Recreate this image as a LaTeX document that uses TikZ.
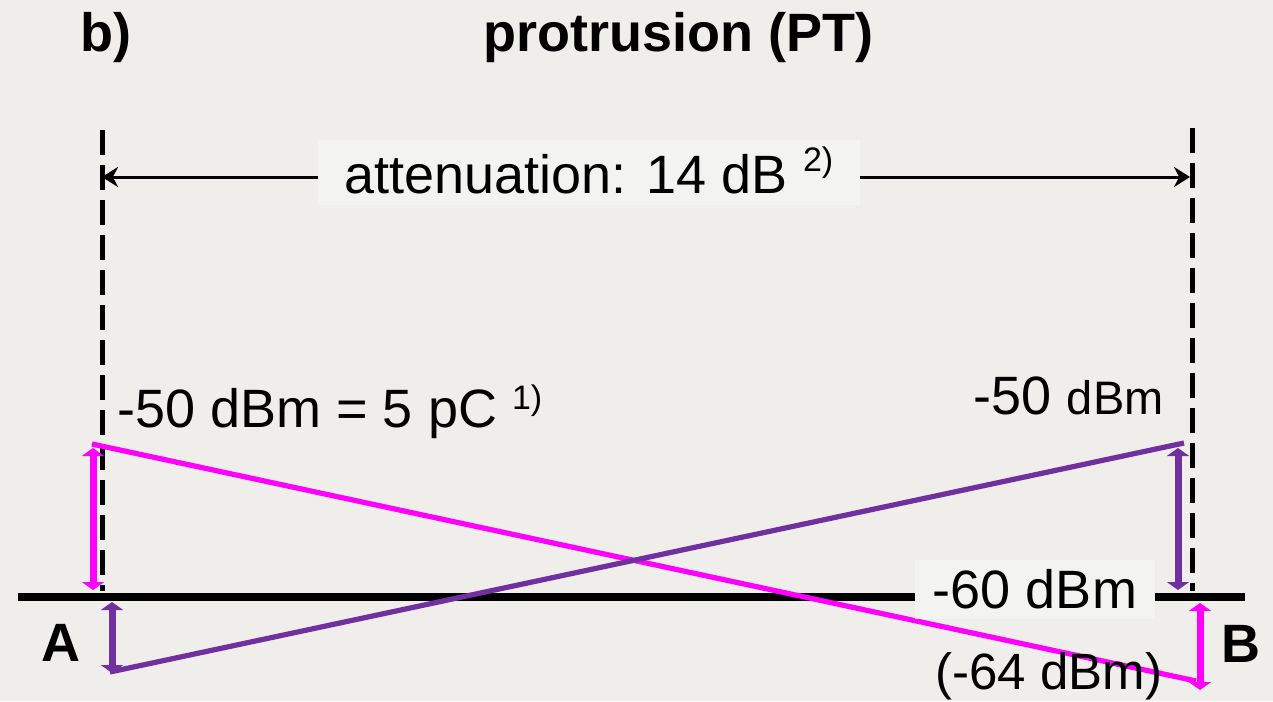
\documentclass[tikz,border=0pt]{standalone}
\usepackage{fontspec}
\setmainfont{Liberation Sans}
\usetikzlibrary{arrows.meta, positioning}
\definecolor{ptback}{HTML}{EFEEEA}
\definecolor{ptbox}{HTML}{F3F3F2}
\definecolor{ptmagenta}{HTML}{FF00FF}
\definecolor{ptpurple}{HTML}{7030A0}

\begin{document}
\begin{tikzpicture}[x=0.5pt,y=-0.5pt,
    bigtext/.style={font=\fontsize{27}{32}\selectfont,inner sep=0pt},
    headtext/.style={font=\fontsize{27}{32}\selectfont\bfseries,inner sep=0pt},
    labelbox/.style={fill=ptbox,inner sep=0pt,font=\fontsize{27}{32}\selectfont},
    cutline/.style={line width=2.5pt,dash pattern=on 12.5pt off 5pt},
    signal/.style={line width=2.6pt},
    level/.style={line width=3.5pt,{Triangle[width=11pt,length=4pt]}-{Triangle[width=11pt,length=4pt]}}]
    \useasboundingbox[fill=ptback] (0,0) rectangle (1273,701);
    % titles
    \node[headtext,anchor=base west] (tag) at (80,52) {b)};
    \node[headtext,anchor=base west] (title) at (483,52) {protrusion (PT)};
    % cable and cut lines
    \coordinate (cableL) at (18,597);
    \coordinate (cableR) at (1245,597);
    \draw[line width=4pt] (cableL) -- (cableR);
    \coordinate (cutAtop) at (102,130);
    \coordinate (cutAbot) at (102,591);
    \coordinate (cutBtop) at (1192,128);
    \coordinate (cutBbot) at (1192,591);
    \draw[cutline] (cutAtop) -- (cutAbot);
    \draw[cutline] (cutBtop) -- (cutBbot);
    % attenuation between A and B
    \coordinate (dimL) at (102,177);
    \coordinate (dimR) at (1190,177);
    \draw[line width=1.5pt,{Stealth[width=10pt,length=8pt]}-{Stealth[width=10pt,length=8pt]}] (dimL) -- (dimR);
    \node[labelbox,anchor=base,minimum width=271pt,text height=26.5pt,text depth=6pt] (att) at (589,193)
      {attenuation: 14 dB \raisebox{11pt}{\fontsize{17}{20}\selectfont 2)}};
    % signals
    \coordinate (magA) at (92,444);
    \coordinate (magB) at (1196,681);
    \coordinate (purA) at (110,672);
    \coordinate (purB) at (1184,443);
    \draw[signal,ptmagenta] (magA) -- (magB);
    \draw[signal,ptpurple] (purA) -- (purB);
    % levels
    \coordinate (lvA1) at (93,448);
    \coordinate (lvA2) at (93,590);
    \coordinate (lvA3) at (112,602);
    \coordinate (lvA4) at (112,673);
    \coordinate (lvB1) at (1178,448);
    \coordinate (lvB2) at (1178,590);
    \coordinate (lvB3) at (1200,603);
    \coordinate (lvB4) at (1200,690);
    \draw[level,ptmagenta] (lvA1) -- (lvA2);
    \draw[level,ptpurple] (lvA3) -- (lvA4);
    \draw[level,ptpurple] (lvB1) -- (lvB2);
    \draw[level,ptmagenta] (lvB3) -- (lvB4);
    % values
    \node[bigtext,anchor=base west] (inA) at (117,427)
      {-50 dBm = 5 pC \raisebox{9pt}{\fontsize{17}{20}\selectfont 1)}};
    \node[bigtext,anchor=base east] (inB) at (1164,414)
      {-50 {\fontsize{23.5}{28}\selectfont dBm}};
    \node[labelbox,anchor=base,minimum width=120pt,text height=24pt,text depth=5.5pt] (outB) at (1035,608) {-60 dBm};
    \node[bigtext,anchor=base west,font=\fontsize{25.5}{30}\selectfont] (outBm) at (935,689) {(-64 dBm)};
    \node[headtext,anchor=base west] (endA) at (41,661) {A};
    \node[headtext,anchor=base west] (endB) at (1221,662) {B};
  \end{tikzpicture}
\end{document}
